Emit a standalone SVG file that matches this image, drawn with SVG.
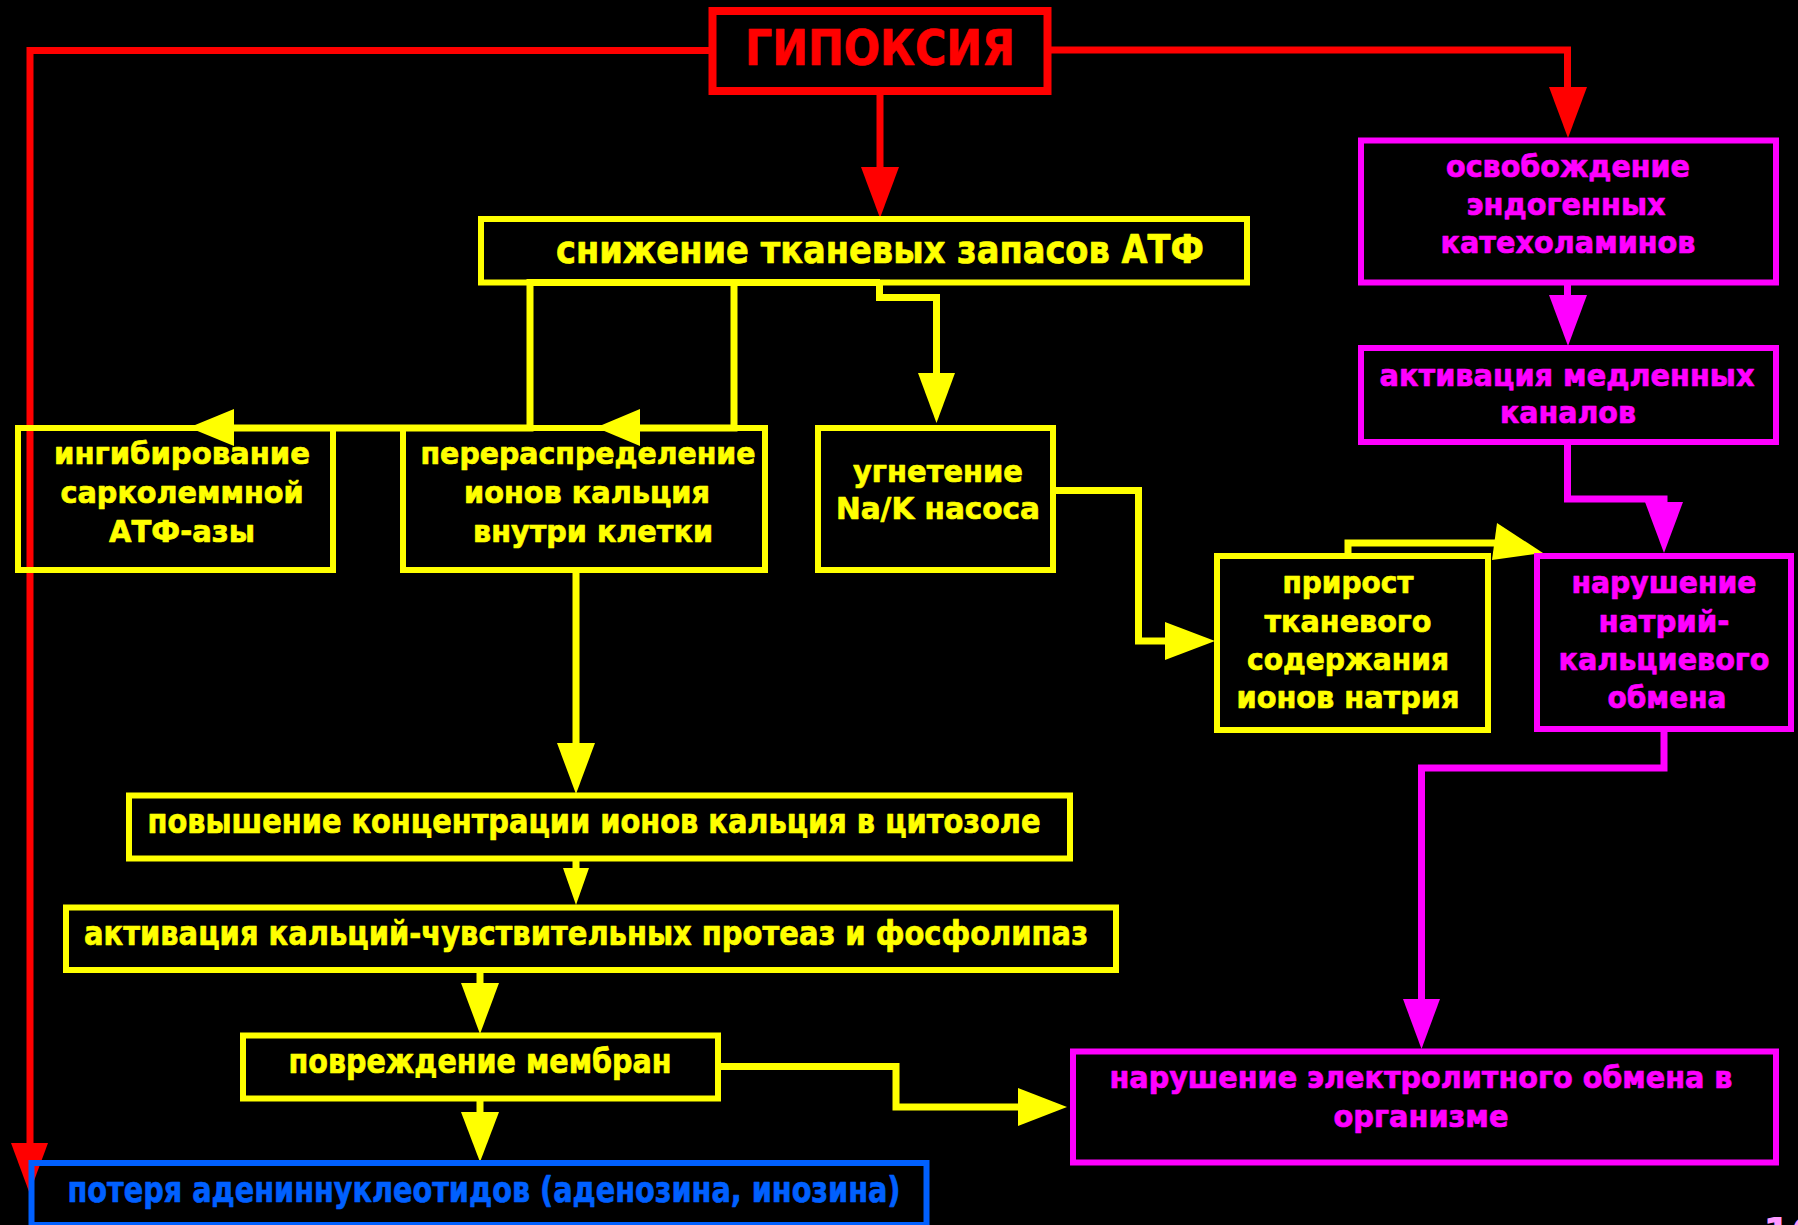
<svg xmlns="http://www.w3.org/2000/svg" width="1798" height="1225" viewBox="0 0 1798 1225">
<style>
.bg{fill:#000000}
.box{fill:none;stroke-width:6}
.y{stroke:#FFFF00}
.m{stroke:#FF00FF}
.r{stroke:#FF0000}
.b{stroke:#0060FF}
text{font-family:"DejaVu Sans","Liberation Sans",sans-serif;font-weight:bold;text-anchor:middle;stroke-width:0.7px;stroke-linejoin:round}
.ty{fill:#FFFF00;stroke:#FFFF00}
.tm{fill:#FF00FF;stroke:#FF00FF}
.tr{fill:#FF0000;stroke:#FF0000}
.tb{fill:#0060FF;stroke:#0060FF}
.s30{font-size:30px}
.s34{font-size:34px}
.ln{fill:none;stroke-width:7;stroke-linejoin:miter;stroke-linecap:butt}
.ay{fill:#FFFF00}
.am{fill:#FF00FF}
.ar{fill:#FF0000}
</style>
<rect class="bg" x="0" y="0" width="1798" height="1225"/>

<g id="connectors">
  <path class="ln r" d="M712 50.5 H30 V1146"/>
  <polygon class="ar" points="11,1143 48,1143 29.5,1193"/>
  <path class="ln r" d="M1048 50 H1567.5 V90"/>
  <polygon class="ar" points="1549,87 1587,87 1568,138"/>
  <path class="ln r" d="M880 91 V170"/>
  <polygon class="ar" points="861,167 899,167 880,218"/>
  <path class="ln y" d="M880 282.5 H530 V428 H232"/>
  <polygon class="ay" points="234,409 234,446 189,427.5"/>
  <path class="ln y" d="M734 282.5 V428 H638"/>
  <polygon class="ay" points="640,409 640,446 596,427.5"/>
  <path class="ln y" d="M879.5 282.5 V297.5 H936.5 V376"/>
  <polygon class="ay" points="918,373 955,373 936.5,423"/>
  <path class="ln y" d="M576 570 V746"/>
  <polygon class="ay" points="557,743 595,743 576,794"/>
  <path class="ln y" d="M576 858 V870"/>
  <polygon class="ay" points="563,868 589,868 576,905"/>
  <path class="ln y" d="M480 970 V985"/>
  <polygon class="ay" points="461,983 499,983 480,1034"/>
  <path class="ln y" d="M480 1098 V1114"/>
  <polygon class="ay" points="461,1112 499,1112 480,1162"/>
  <path class="ln y" d="M718 1066.5 H896 V1107 H1021"/>
  <polygon class="ay" points="1018,1088 1018,1126 1067,1107"/>
  <path class="ln y" d="M1053 490.5 H1138.5 V641 H1167"/>
  <polygon class="ay" points="1165,622 1165,660 1215,641"/>
  <path class="ln y" d="M1348 558 V543 H1495"/>
  <polygon class="ay" points="1497,523 1543,553 1492,560"/>
  <path class="ln m" d="M1567.5 282 V297"/>
  <polygon class="am" points="1549,295 1587,295 1568,346"/>
  <path class="ln m" d="M1567.5 442 V499 H1664 V505"/>
  <polygon class="am" points="1645,502 1683,502 1664,553"/>
  <path class="ln m" d="M1664 729 V768 H1421.5 V1001"/>
  <polygon class="am" points="1403,999 1440,999 1421.5,1049"/>
</g>

<g id="node-hypoxia">
  <rect class="box r" style="stroke-width:8" x="712.5" y="11" width="335" height="80"/>
  <text class="tr" x="880" y="65" font-size="49" textLength="270" lengthAdjust="spacingAndGlyphs">ГИПОКСИЯ</text>
</g>

<g id="node-atp">
  <rect class="box y" x="481" y="219" width="766" height="63.5"/>
  <text class="ty" x="880" y="263" font-size="39" textLength="648" lengthAdjust="spacingAndGlyphs">снижение тканевых запасов АТФ</text>
</g>

<g id="node-catecholamines">
  <rect class="box m" x="1361" y="140.5" width="415" height="142"/>
  <text class="tm s30" x="1568" y="177" textLength="244" lengthAdjust="spacingAndGlyphs">освобождение</text>
  <text class="tm s30" x="1566" y="215" textLength="199" lengthAdjust="spacingAndGlyphs">эндогенных</text>
  <text class="tm s30" x="1568" y="253" textLength="255" lengthAdjust="spacingAndGlyphs">катехоламинов</text>
</g>

<g id="node-slow-channels">
  <rect class="box m" x="1361" y="348" width="415" height="94"/>
  <text class="tm s30" x="1567" y="386" textLength="375" lengthAdjust="spacingAndGlyphs">активация медленных</text>
  <text class="tm s30" x="1568" y="423" textLength="136" lengthAdjust="spacingAndGlyphs">каналов</text>
</g>

<g id="node-atpase">
  <rect class="box y" x="18" y="428" width="315" height="142"/>
  <text class="ty s30" x="182" y="464" textLength="256" lengthAdjust="spacingAndGlyphs">ингибирование</text>
  <text class="ty s30" x="182" y="503" textLength="243" lengthAdjust="spacingAndGlyphs">сарколеммной</text>
  <text class="ty s30" x="182" y="542" textLength="146" lengthAdjust="spacingAndGlyphs">АТФ-азы</text>
</g>

<g id="node-redistribution">
  <rect class="box y" x="403" y="428" width="362" height="142"/>
  <text class="ty s30" x="588" y="464" textLength="335" lengthAdjust="spacingAndGlyphs">перераспределение</text>
  <text class="ty s30" x="587" y="503" textLength="246" lengthAdjust="spacingAndGlyphs">ионов кальция</text>
  <text class="ty s30" x="593" y="542" textLength="240" lengthAdjust="spacingAndGlyphs">внутри клетки</text>
</g>

<g id="node-pump">
  <rect class="box y" x="818" y="428" width="235" height="142"/>
  <text class="ty s30" x="938" y="482" textLength="170" lengthAdjust="spacingAndGlyphs">угнетение</text>
  <text class="ty s30" x="938" y="519" textLength="204" lengthAdjust="spacingAndGlyphs">Na/K насоса</text>
</g>

<g id="node-sodium">
  <rect class="box y" x="1217" y="556" width="271" height="174"/>
  <text class="ty s30" x="1348" y="593" textLength="131" lengthAdjust="spacingAndGlyphs">прирост</text>
  <text class="ty s30" x="1348" y="632" textLength="167" lengthAdjust="spacingAndGlyphs">тканевого</text>
  <text class="ty s30" x="1348" y="670" textLength="202" lengthAdjust="spacingAndGlyphs">содержания</text>
  <text class="ty s30" x="1348" y="708" textLength="223" lengthAdjust="spacingAndGlyphs">ионов натрия</text>
</g>

<g id="node-na-ca">
  <rect class="box m" x="1537" y="556" width="254" height="173"/>
  <text class="tm s30" x="1664" y="593" textLength="185" lengthAdjust="spacingAndGlyphs">нарушение</text>
  <text class="tm s30" x="1664" y="632" textLength="131" lengthAdjust="spacingAndGlyphs">натрий-</text>
  <text class="tm s30" x="1664" y="670" textLength="211" lengthAdjust="spacingAndGlyphs">кальциевого</text>
  <text class="tm s30" x="1667" y="708" textLength="119" lengthAdjust="spacingAndGlyphs">обмена</text>
</g>

<g id="node-cytosol">
  <rect class="box y" x="129" y="795.5" width="941" height="63"/>
  <text class="ty s34" x="594" y="833" textLength="893" lengthAdjust="spacingAndGlyphs">повышение концентрации ионов кальция в цитозоле</text>
</g>

<g id="node-proteases">
  <rect class="box y" x="66" y="907.5" width="1050" height="62.5"/>
  <text class="ty s34" x="586" y="945" textLength="1004" lengthAdjust="spacingAndGlyphs">активация кальций-чувствительных протеаз и фосфолипаз</text>
</g>

<g id="node-membranes">
  <rect class="box y" x="243" y="1035.5" width="475" height="63"/>
  <text class="ty s34" x="480" y="1073" textLength="383" lengthAdjust="spacingAndGlyphs">повреждение мембран</text>
</g>

<g id="node-adenine">
  <rect class="box b" x="31.5" y="1163" width="895" height="62"/>
  <text class="tb" x="484" y="1202" font-size="36" textLength="833" lengthAdjust="spacingAndGlyphs">потеря адениннуклеотидов (аденозина, инозина)</text>
</g>

<g id="node-electrolyte">
  <rect class="box m" x="1073" y="1051.5" width="703" height="111"/>
  <text class="tm s30" x="1421" y="1088" textLength="623" lengthAdjust="spacingAndGlyphs">нарушение электролитного обмена в</text>
  <text class="tm s30" x="1421" y="1127" textLength="175" lengthAdjust="spacingAndGlyphs">организме</text>
</g>

<text x="1763" y="1247" style="text-anchor:start;fill:#FF99FF;stroke:none;font-size:40px">16</text>
</svg>
